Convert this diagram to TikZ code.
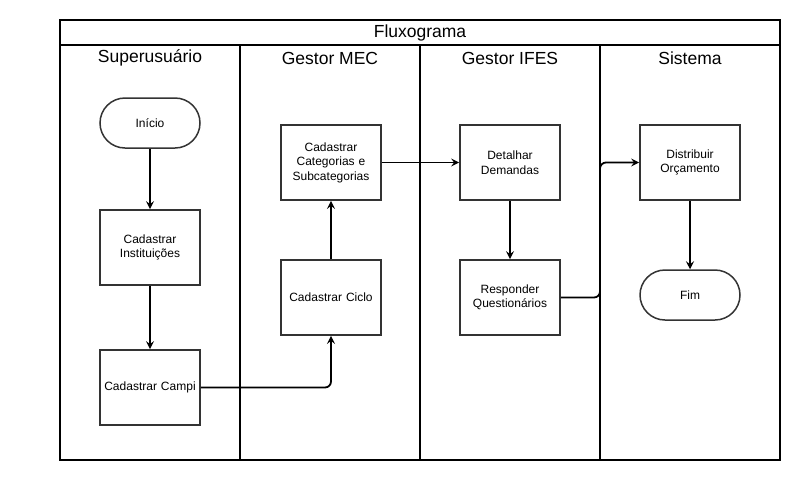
\documentclass[tikz,border=0pt]{standalone}
\usepackage{fontspec}
\setmainfont{Liberation Sans}
\usetikzlibrary{arrows.meta}
\definecolor{boxline}{HTML}{333333}
\tikzset{
  lane/.style={draw=black, line width=2pt},
  procbox/.style={draw=boxline, line width=1.8pt, minimum width=100pt, minimum height=75pt, inner sep=2pt, align=center, font=\fontsize{12}{14.5}\selectfont, text width=92pt},
  termbox/.style={draw=boxline, line width=1.5pt, minimum width=100pt, minimum height=50pt, rounded corners=25pt, align=center, font=\fontsize{12}{14.5}\selectfont},
  heading/.style={font=\fontsize{17.5}{20}\selectfont, inner sep=0pt},
  flow/.style={draw=black, line width=1.8pt, -{Stealth[length=8pt,width=8pt,inset=3pt]}, rounded corners=6pt}
}
\begin{document}
\begin{tikzpicture}[x=1pt,y=-1pt]
\useasboundingbox (0,0) rectangle (802,480);
% frame and lanes
\draw[lane] (60,20) rectangle (780,460);
\draw[lane] (60,45) -- (780,45);
\draw[lane] (240,45) -- (240,460);
\draw[lane] (420,45) -- (420,460);
\draw[lane] (600,45) -- (600,460);
\node[heading] (title) at (420,32.5) {Fluxograma};
\node[heading] (h1) at (150,58) {Superusuário};
\node[heading] (h2) at (330,58) {Gestor MEC};
\node[heading] (h3) at (510,58) {Gestor IFES};
\node[heading] (h4) at (690,58) {Sistema};
% nodes
\node[termbox] (inicio) at (150,123) {Início};
\node[procbox] (inst) at (150,247.5) {Cadastrar\\Instituições};
\node[procbox] (campi) at (150,387.5) {Cadastrar Campi};
\node[procbox] (ciclo) at (331,297.5) {Cadastrar Ciclo};
\node[procbox] (categ) at (331,162.5) {Cadastrar\\Categorias e\\Subcategorias};
\node[procbox] (detal) at (510,162.5) {Detalhar\\Demandas};
\node[procbox] (resp) at (510,297.5) {Responder\\Questionários};
\node[procbox] (distr) at (690,162.5) {Distribuir\\Orçamento};
\node[termbox] (fim) at (690,295) {Fim};
% connectors
\draw[flow] (inicio.south) -- (inst.north);
\draw[flow] (inst.south) -- (campi.north);
\draw[flow] (campi.east) -| (ciclo.south);
\draw[flow] (ciclo.north) -- (categ.south);
\draw[flow] (categ.east) -- (detal.west);
\draw[flow] (detal.south) -- (resp.north);
\coordinate (bend) at (600,297.5);
\draw[flow] (resp.east) -- (bend) |- (distr.west);
\draw[flow] (distr.south) -- (fim.north);
\end{tikzpicture}
\end{document}
